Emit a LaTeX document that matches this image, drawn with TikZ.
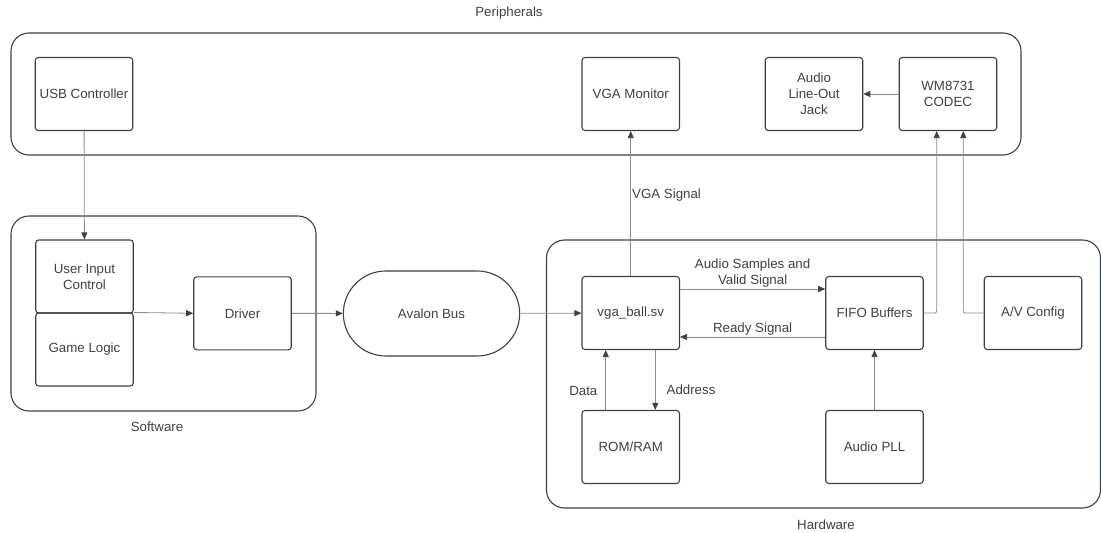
\documentclass[tikz,border=0pt]{standalone}
\usepackage{fontspec}
\setmainfont{Liberation Sans}
\usetikzlibrary{arrows.meta,shapes.misc}
\definecolor{inkcolor}{HTML}{3A414A}
\definecolor{linkcolor}{HTML}{868B91}
\tikzset{
    x={1pt},
    y={-1pt},
    every node/.style={
        font={\fontsize{13.3}{16}\selectfont},
        text=inkcolor,
    },
    group frame/.style={
        draw=inkcolor,
        line width={1.1pt},
        rounded corners={18pt},
        minimum width={#1},
    },
    block/.style={
        draw=inkcolor,
        line width={1.1pt},
        rounded corners={3pt},
        align=center,
        minimum width={97.5},
        minimum height={73},
        inner sep=1pt,
    },
    bus/.style={
        draw=inkcolor,
        line width={1.1pt},
        rounded rectangle,
        minimum width={183},
        minimum height={85},
    },
    link/.style={
        draw=linkcolor,
        line width={0.8pt},
        -{Triangle[length=7pt,width=6pt,fill=inkcolor,color=inkcolor]},
    },
    bent link/.style={
        link,
        rounded corners={2pt},
    },
    signal label/.style={
        align=center,
        inner sep=1pt,
    },
}

\begin{document}
\begin{tikzpicture}
\useasboundingbox (0,0) rectangle (1101,533);
% groups
\node[group frame=1010, minimum height={122}] (periframe) at (516,94) {};
\node[group frame=305, minimum height={195}] (softframe) at (163.5,313.5) {};
\node[group frame=554, minimum height={268}] (hardframe) at (823.5,374) {};
\node (perilabel) at (509,13) {Peripherals};
\node (softlabel) at (157,427) {Software};
\node (hardlabel) at (826,525) {Hardware};
% peripherals
\node[block] (usb) at (84,94) {USB Controller};
\node[block] (vgamon) at (630.75,94) {VGA Monitor};
\node[block] (jack) at (814,94) {Audio\\Line-Out\\Jack};
\node[block] (codec) at (948,94) {WM8731\\CODEC};
% software
\node[block] (userinput) at (84.5,276.5) {User Input\\Control};
\node[block] (gamelogic) at (84.5,349.5) {Game Logic};
\node[block] (driver) at (242.5,313.3) {Driver};
\node[bus] (avalon) at (431.5,313.5) {Avalon Bus};
% hardware
\node[block] (vgaball) at (630.75,313) {vga\_ball.sv};
\node[block] (fifo) at (874.5,313) {FIFO Buffers};
\node[block] (avconfig) at (1033,313) {A/V Config};
\node[block] (romram) at (630.75,447) {ROM/RAM};
\node[block] (audiopll) at (874.5,447) {Audio PLL};
% connectors
\draw[link] (usb) -- (userinput);
\draw[link] (gamelogic.north east) -- (driver.west);
\draw[link] (driver) -- (avalon);
\draw[link] (avalon) -- (vgaball);
\draw[link] (vgaball) -- node[signal label, pos=0.56, anchor=west] {VGA Signal} (vgamon);
\draw[link] ([yshift=24]vgaball.east) -- node[signal label, above] {Audio Samples and\\Valid Signal} ([yshift=24]fifo.west);
\draw[link] ([yshift=-24]fifo.west) -- node[signal label, above] {Ready Signal} ([yshift=-24]vgaball.east);
\draw[link] ([xshift=-25]romram.north) -- node[signal label, pos=0.31, left=7] {Data} ([xshift=-25]vgaball.south);
\draw[link] ([xshift=24.5]vgaball.south) -- node[signal label, pos=0.66, right=10] {Address} ([xshift=24.5]romram.north);
\draw[link] (audiopll) -- (fifo);
\draw[bent link] (fifo.east) -| ([xshift=-11.3]codec.south);
\draw[bent link] (avconfig.west) -| ([xshift=15.3]codec.south);
\draw[link] (codec) -- (jack);
\end{tikzpicture}
\end{document}
